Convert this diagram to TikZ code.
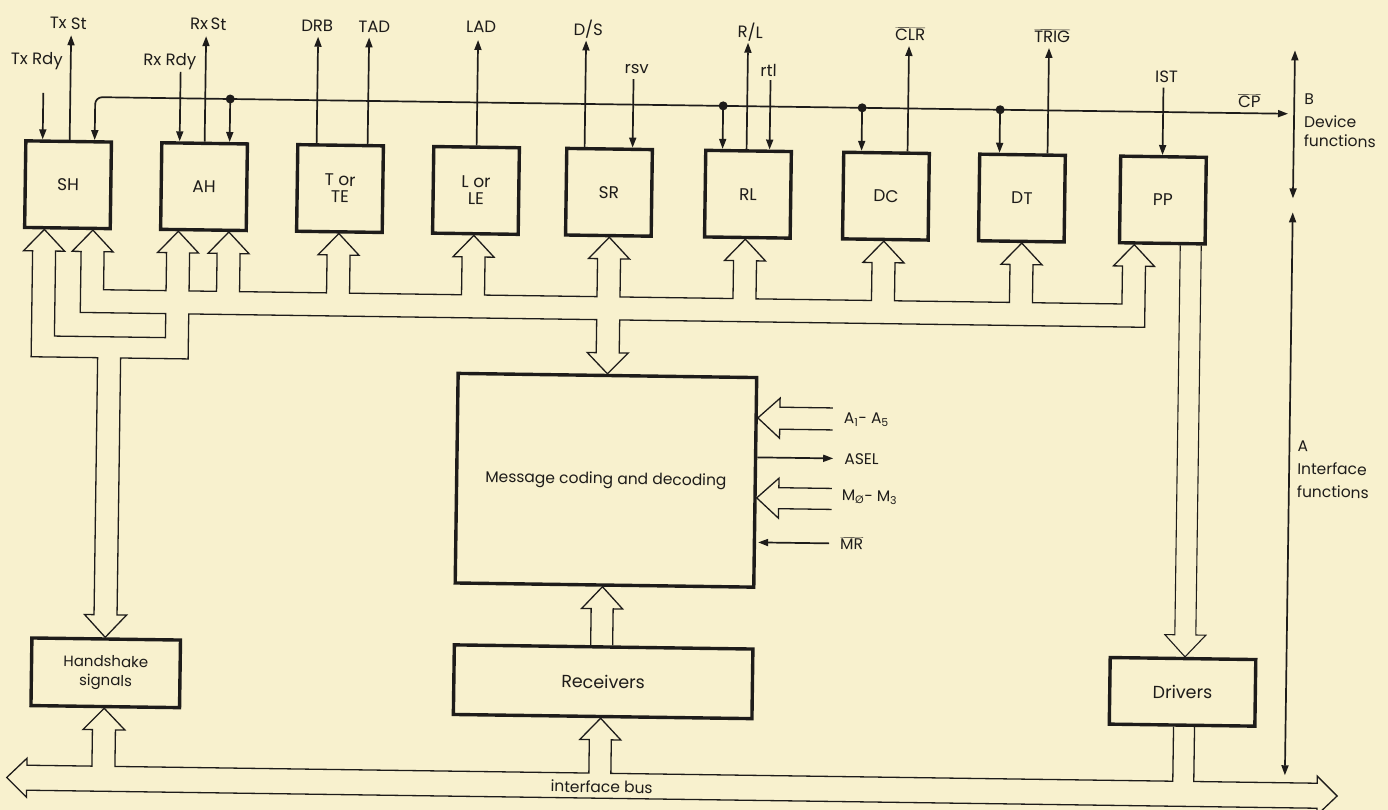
\documentclass[tikz,border=0pt]{standalone}
\usepackage{fontspec}
\setmainfont{Poppins}
\usetikzlibrary{arrows.meta}
\definecolor{bg}{RGB}{248,241,206}
\definecolor{ink}{RGB}{30,28,26}
\newcommand\lblfont{\fontsize{16.5}{19}\selectfont}
\newcommand\sidefont{\fontsize{15.5}{18}\selectfont}
\newcommand\ovl[1]{$\overline{\mbox{#1}}$}
\begin{document}
\begin{tikzpicture}[x=1pt,y=-1pt,
  box/.style={draw=ink, line width=3.4pt, inner sep=0pt, minimum width=85.6pt, minimum height=86.6pt,
              font=\fontsize{17}{17}\selectfont, align=center, text=ink},
  bigbox/.style={draw=ink, line width=3.4pt, inner sep=0pt, font=\fontsize{16}{19}\selectfont, align=center, text=ink},
  lbl/.style={font=\lblfont, text=ink, inner sep=0pt},
  side/.style={font=\sidefont, text=ink, inner sep=0pt, anchor=west},
  sig/.style={draw=ink, line width=1.7pt, -{Triangle[length=10pt,width=7pt]}},
  dsig/.style={draw=ink, line width=1.7pt, {Triangle[length=10pt,width=7pt]}-{Triangle[length=10pt,width=7pt]}},
  fat/.style={draw=ink, line width=1.3pt, line join=miter},
  dot/.style={fill=ink, circle, inner sep=0pt, minimum size=9pt}]
\fill[bg] (0,0) rectangle (1388,810);
\useasboundingbox (0,0) rectangle (1388,810);
\begin{scope}[rotate around={-0.8:(694,405)}, transform shape]
% interface function boxes
\node[box] (sh) at (65,193.5) {SH};
\node[box] (ah) at (201,193.5) {AH};
\node[box] (t) at (337,193.5) {T or\\TE};
\node[box] (l) at (473,193.5) {L or\\LE};
\node[box] (sr) at (606,193.5) {SR};
\node[box] (rl) at (745,193.5) {RL};
\node[box] (dc) at (883,193.5) {DC};
\node[box] (dt) at (1019,193.5) {DT};
\node[box] (pp) at (1160,193.5) {PP};
% lower boxes
\node[bigbox, minimum width=298.6pt, minimum height=209.6pt, font=\fontsize{15.5}{19}\selectfont] (msg) at (607,481.5) {Message coding and decoding};
\node[bigbox, minimum width=298.6pt, minimum height=69.6pt, font=\fontsize{17.5}{19}\selectfont] (rec) at (607,683) {Receivers};
\node[bigbox, minimum width=148.6pt, minimum height=67.6pt, font=\fontsize{15}{19}\selectfont] (hs) at (109.5,681) {Handshake\\signals};
\node[bigbox, minimum width=145.6pt, minimum height=66.6pt, font=\fontsize{17.5}{19}\selectfont] (drv) at (1186.5,685) {Drivers};

% device-side bus line with junction dots
\node[dot] (d1) at (226,105.5) {};
\node[dot] (d2) at (719,105.5) {};
\node[dot] (d3) at (858,105.5) {};
\node[dot] (d4) at (996,105.5) {};
\coordinate (cpend) at (1284,105.5);
\coordinate (shin) at (91,148.5);
\draw[dsig, rounded corners=7pt] (shin) -- (91,105.5) -- (cpend);
\draw[sig] (d1.center) -- (226,148.5);
\draw[sig] (d2.center) -- (719,148.5);
\draw[sig] (d3.center) -- (858,148.5);
\draw[sig] (d4.center) -- (996,148.5);

% signal labels and arrows
\node[lbl] (txrdy) at (32,70) {Tx Rdy};
\draw[sig] (39,102) -- (39,148.5);
\node[lbl] (txst) at (63,32) {Tx St};
\draw[sig] (66,148.5) -- (66,44);
\node[lbl] (rxrdy) at (165,69) {Rx Rdy};
\draw[sig] (176,79) -- (176,148.5);
\node[lbl] (rxst) at (203,31) {Rx\,St};
\draw[sig] (201,148.5) -- (201,43);
\node[lbl] (drb) at (312,31) {DRB};
\draw[sig] (313,148.5) -- (313,42);
\node[lbl] (tad) at (369,31) {TAD};
\draw[sig] (364,148.5) -- (364,42);
\node[lbl] (lad) at (476,30) {LAD};
\draw[sig] (473,148.5) -- (473,43);
\node[lbl] (ds) at (583,31) {D/S};
\draw[sig] (581,148.5) -- (581,42);
\node[lbl] (rsv) at (632,70) {rsv};
\draw[sig] (629,80) -- (629,148.5);
\node[lbl] (rlab) at (745,31) {R/L};
\draw[sig] (743,148.5) -- (743,42);
\node[lbl] (rtl) at (764,69) {rtl};
\draw[sig] (766,79) -- (766,148.5);
\node[lbl] (clr) at (905,31) {\ovl{CLR}};
\draw[sig] (904,148.5) -- (904,43);
\node[lbl] (trig) at (1047,31) {\ovl{TRIG}};
\draw[sig] (1044,148.5) -- (1044,43);
\node[lbl] (ist) at (1162,70) {IST};
\draw[sig] (1159,81) -- (1159,148.5);
\node[lbl] (cp) at (1245,93) {\ovl{CP}};

% B / A function brackets
\draw[dsig] (1290,42) -- (1290,190);
\draw[dsig] (1290,204) -- (1290,767);
\node[side] (bl) at (1300,91) {B};
\node[side] (bdev) at (1300,113) {Device};
\node[side] (bfun) at (1300,132) {functions};
\node[side] (al) at (1298,438) {A};
\node[side] (aint) at (1298,460) {Interface};
\node[side] (afun) at (1298,483) {functions};

% fat-arrow network between function boxes, handshake and message coding
\draw[fat] (30.5,366) -- (30.5,260) -- (21.5,260) -- (42,238.5) -- (62.5,260) -- (53.5,260)
  -- (53.5,345) -- (164.5,345) -- (164.5,321) -- (79,321)
  -- (79,260) -- (70,260) -- (90.5,238.5) -- (111,260) -- (102,260) -- (102,298)
  -- (164.5,298) -- (164.5,260) -- (155.5,260) -- (176,238.5) -- (196.5,260) -- (187.5,260) -- (187.5,298)
  -- (215,298) -- (215,260) -- (206,260) -- (226.5,238.5) -- (247,260) -- (238,260) -- (238,298)
  -- (325,298) -- (325,260) -- (316,260) -- (336.5,238.5) -- (357,260) -- (348,260) -- (348,298)
  -- (460,298) -- (460,260) -- (451,260) -- (471.5,238.5) -- (492,260) -- (483,260) -- (483,298)
  -- (595.5,298) -- (595.5,260) -- (586.5,260) -- (607,238.5) -- (627.5,260) -- (618.5,260) -- (618.5,298)
  -- (731.5,298) -- (731.5,260) -- (722.5,260) -- (743,238.5) -- (763.5,260) -- (754.5,260) -- (754.5,298)
  -- (870,298) -- (870,260) -- (861,260) -- (881.5,238.5) -- (902,260) -- (893,260) -- (893,298)
  -- (1008,298) -- (1008,260) -- (999,260) -- (1019.5,238.5) -- (1040,260) -- (1031,260) -- (1031,298)
  -- (1120.5,298) -- (1120.5,260) -- (1111.5,260) -- (1132,238.5) -- (1152.5,260) -- (1143.5,260)
  -- (1143.5,321) -- (618.5,321) -- (618.5,354) -- (627.5,354) -- (607,375) -- (586.5,354) -- (595.5,354)
  -- (595.5,321) -- (187.5,321) -- (187.5,366) -- (120,366) -- (120,623) -- (129.5,623) -- (108.5,645.5)
  -- (87.5,623) -- (97,623) -- (97,366) -- cycle;

% PP to drivers
\draw[fat, line width=1.1pt] (1178,238.5) -- (1178,628) -- (1168,628) -- (1188.5,650) -- (1209,628) -- (1199,628) -- (1199,238.5);
% receivers to message coding
\draw[fat] (594,646.5) -- (594,610) -- (584.5,610) -- (605,588) -- (625.5,610) -- (616,610) -- (616,646.5);
% interface bus
\draw[fat] (1178,720) -- (1178,774.5) -- (616,774.5) -- (616,741) -- (625.5,741) -- (605,719.5) -- (584.5,741)
  -- (594,741) -- (594,774.5) -- (120,774.5) -- (120,738) -- (129.5,738) -- (108.5,716.5) -- (87.5,738)
  -- (97,738) -- (97,774.5) -- (32,774.5) -- (32,767.5) -- (12,787) -- (32,806.5) -- (32,799.5)
  -- (1322.5,799.5) -- (1322.5,806.5) -- (1342.5,787) -- (1322.5,767.5) -- (1322.5,774.5) -- (1199,774.5) -- (1199,720);
\node[lbl, font=\fontsize{15.5}{17}\selectfont] (ibus) at (607,788) {interface bus};

% message coding inputs / outputs
\draw[fat] (833,406) -- (780,406) -- (780,397) -- (758,417) -- (780,437) -- (780,428) -- (833,428);
\node[side] (a15) at (844,417) {A\textsubscript{1}- A\textsubscript{5}};
\coordinate (asel) at (834,456.5);
\draw[sig] (758,456.5) -- (asel);
\node[side] (asellbl) at (845,456.5) {ASEL};
\draw[fat] (833,486.5) -- (780,486.5) -- (780,477) -- (758,497) -- (780,517) -- (780,507.5) -- (833,507.5);
\node[side] (m03) at (843,495) {M\textsubscript{Ø}- M\textsubscript{3}};
\coordinate (mrs) at (831,541.5);
\draw[sig] (mrs) -- (760,541.5);
\node[side] (mr) at (842,541) {\ovl{MR}};
\end{scope}
\end{tikzpicture}
\end{document}
